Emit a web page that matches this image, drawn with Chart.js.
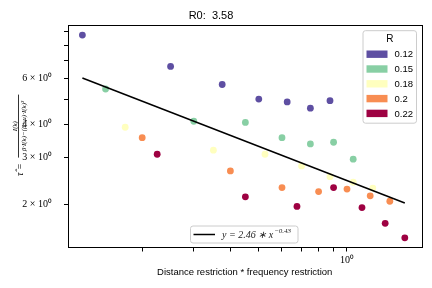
<!DOCTYPE html>
<html lang="en">
<head>
<meta charset="UTF-8">
<title>R0: 3.58</title>
<script src="https://cdn.jsdelivr.net/npm/chart.js"></script>
<style>
  html, body { margin: 0; padding: 0; background: #fff; }
  #wrap { width: 432px; height: 288px; }
</style>
</head>
<body>
<div id="wrap"><canvas id="chart" width="432" height="288"></canvas></div>
<script>
// values (log-log axes)
const rLabels = ['0.12', '0.15', '0.18', '0.2', '0.22'];
const rColors = ['#5e4fa2', '#88cfa4', '#ffffbf', '#f88d52', '#9e0142'];

const x012 = [0.125, 0.25, 0.375, 0.5, 0.625, 0.75, 0.875];
const y012 = [8.74, 6.65, 5.68, 5.00, 4.88, 4.62, 4.93];
const x015 = [0.15, 0.30, 0.45, 0.60, 0.75, 0.90, 1.05];
const y015 = [5.46, 4.12, 4.08, 3.57, 3.38, 3.43, 2.96];
const x018 = [0.175, 0.35, 0.525, 0.70, 0.875, 1.05, 1.225];
const y018 = [3.91, 3.20, 3.09, 2.79, 2.54, 2.42, 2.30];
const x020 = [0.2, 0.4, 0.6, 0.8, 1.0, 1.2, 1.4];
const y020 = [3.57, 2.67, 2.31, 2.23, 2.28, 2.15, 2.05];
const x022 = [0.225, 0.45, 0.675, 0.9, 1.125, 1.35, 1.575];
const y022 = [3.09, 2.13, 1.96, 2.31, 1.94, 1.69, 1.49];

// fitted power law, end points
const fitX = [0.125, 1.575];
const fitY = [6.01, 2.02];
const fitLabel = 'y = 2.46 \u2217 x';
const fitExp = '\u22120.43';

const xTickValues = [0.2, 0.3, 0.4, 0.5, 0.6, 0.7, 0.8, 0.9, 1.0];
const xTickLabels = ['', '', '', '', '', '', '', '', '10\u2070'];
const yTickValues = [2, 3, 4, 5, 6, 7, 8, 9];
const yTickLabels = ['2 \u00d7 10\u2070', '3 \u00d7 10\u2070', '4 \u00d7 10\u2070', '', '6 \u00d7 10\u2070', '', '', ''];

const xs = [x012, x015, x018, x020, x022];
const ys = [y012, y015, y018, y020, y022];

const pts = (a, b) => a.map((v, i) => ({ x: v, y: b[i] }));

const datasets = [{
    label: fitLabel,
    data: pts(fitX, fitY),
    showLine: true,
    borderColor: '#000',
    borderWidth: 1.5,
    pointRadius: 0,
    order: 0
}];
rLabels.forEach((r, i) => {
    datasets.push({
        label: r,
        data: pts(xs[i], ys[i]),
        backgroundColor: rColors[i],
        borderWidth: 0,
        pointRadius: 3.4,
        order: 1
    });
});

// frame, legends and the y label
const extras = {
    id: 'extras',
    afterDraw(chart) {
        const ctx = chart.ctx;
        const a = chart.chartArea;
        ctx.save();
        ctx.strokeStyle = '#000';
        ctx.lineWidth = 1;
        ctx.strokeRect(Math.round(a.left) + 0.5, Math.round(a.top) + 0.5,
            Math.round(a.right - a.left) - 1, Math.round(a.bottom - a.top) - 1);

        // R legend, upper right
        const bx = a.right - 59, by = a.top + 5.5, bw = 53.5, bh = 92.5;
        ctx.beginPath();
        ctx.roundRect(bx, by, bw, bh, 2.5);
        ctx.fillStyle = 'rgba(255,255,255,0.8)';
        ctx.fill();
        ctx.strokeStyle = '#cccccc';
        ctx.stroke();
        ctx.fillStyle = '#000';
        ctx.font = '10px "Liberation Sans"';
        ctx.textAlign = 'center';
        ctx.textBaseline = 'middle';
        ctx.fillText('R', bx + bw / 2, by + 9);
        ctx.textAlign = 'left';
        ctx.font = '9.5px "Liberation Sans"';
        rLabels.forEach((r, i) => {
            const cy = by + 23.5 + i * 14.8;
            ctx.fillStyle = rColors[i];
            ctx.fillRect(bx + 3.5, cy - 3.7, 21, 7.4);
            ctx.fillStyle = '#000';
            ctx.fillText(r, bx + 31.5, cy + 0.5);
        });

        // fit legend, lower center
        const lx = 190.5, ly = a.bottom - 22, lw = 107.5, lh = 17;
        ctx.beginPath();
        ctx.roundRect(lx, ly, lw, lh, 2.5);
        ctx.fillStyle = 'rgba(255,255,255,0.8)';
        ctx.fill();
        ctx.strokeStyle = '#cccccc';
        ctx.stroke();
        ctx.beginPath();
        ctx.moveTo(lx + 3, ly + 8.5);
        ctx.lineTo(lx + 24.5, ly + 8.5);
        ctx.strokeStyle = '#000';
        ctx.lineWidth = 1.5;
        ctx.stroke();
        ctx.fillStyle = '#222';
        ctx.font = 'italic 10px "Liberation Serif"';
        ctx.textBaseline = 'alphabetic';
        ctx.fillText(fitLabel, lx + 31.5, ly + 12);
        const w = ctx.measureText(fitLabel).width;
        ctx.font = 'italic 7px "Liberation Serif"';
        ctx.fillText(fitExp, lx + 32.5 + w, ly + 7);

        // y axis label, rotated fraction
        ctx.translate(20, (a.top + a.bottom) / 2);
        ctx.rotate(-Math.PI / 2);
        ctx.fillStyle = '#000';
        ctx.font = 'italic 10px "Liberation Serif"';
        ctx.textAlign = 'center';
        ctx.fillText('\u03c4\u0302 =', -33, 3);
        ctx.beginPath();
        ctx.moveTo(-21, -1.5);
        ctx.lineTo(42, -1.5);
        ctx.lineWidth = 0.8;
        ctx.stroke();
        ctx.font = 'italic 7px "Liberation Serif"';
        ctx.fillText('I(k)', 10.5, -3.5);
        ctx.fillText('\u03b2\u00b7I(k)\u2212(\u03b2+\u03bc)\u00b7I(k)\u00b2', 10.5, 5.5);
        ctx.restore();
    }
};

Chart.defaults.color = '#000';

new Chart(document.getElementById('chart'), {
    type: 'scatter',
    data: { datasets: datasets },
    options: {
        responsive: false,
        animation: false,
        layout: { padding: { left: 0, right: 10, top: 0, bottom: 0 } },
        plugins: {
            legend: { display: false },
            tooltip: { enabled: false },
            title: {
                display: true,
                text: 'R0:  3.58',
                color: '#000',
                font: { family: 'Liberation Sans', size: 11, weight: 'normal' },
                padding: { top: 9, bottom: 3 }
            }
        },
        scales: {
            x: {
                type: 'logarithmic',
                min: 0.1112,
                max: 1.803,
                border: { display: false },
                grid: { drawOnChartArea: false, tickLength: 3.5, color: '#000' },
                ticks: {
                    autoSkip: false,
                    maxRotation: 0,
                    padding: 3,
                    font: { family: 'Liberation Serif', size: 10 },
                    callback: (v, i) => xTickLabels[i]
                },
                afterBuildTicks: s => { s.ticks = xTickValues.map(v => ({ value: v })); },
                afterFit: s => { s.height = 40; },
                title: {
                    display: true,
                    text: 'Distance restriction * frequency restriction',
                    font: { family: 'Liberation Sans', size: 9.5 },
                    padding: { top: 0, bottom: 10 }
                }
            },
            y: {
                type: 'logarithmic',
                min: 1.363,
                max: 9.53,
                border: { display: false },
                grid: { drawOnChartArea: false, tickLength: 3.5, color: '#000' },
                ticks: {
                    autoSkip: false,
                    padding: 12,
                    font: { family: 'Liberation Serif', size: 10 },
                    callback: (v, i) => yTickLabels[i]
                },
                afterBuildTicks: s => { s.ticks = yTickValues.map(v => ({ value: v })); },
                afterFit: s => { s.width = 67.5; }
            }
        }
    },
    plugins: [extras]
});
</script>
</body>
</html>
